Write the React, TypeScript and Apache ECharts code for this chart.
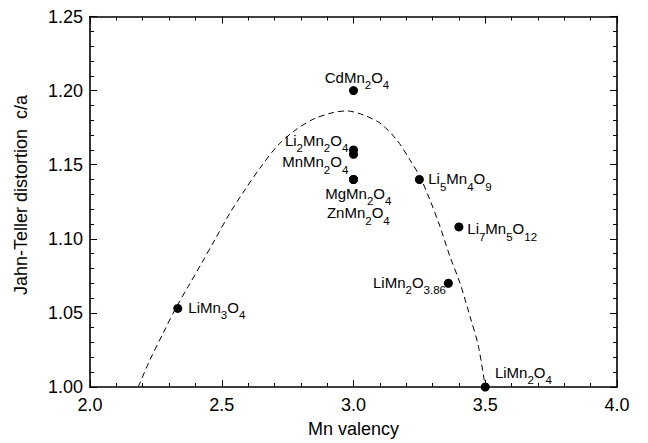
import { useEffect, useRef } from "react";
import * as echarts from "echarts";

// ---- data ----
const compounds = [
  "CdMn_2O_4",
  "Li_2Mn_2O_4",
  "MnMn_2O_4",
  "MgMn_2O_4",
  "ZnMn_2O_4",
  "Li_5Mn_4O_9",
  "Li_7Mn_5O_{12}",
  "LiMn_2O_{3.86}",
  "LiMn_2O_4",
  "LiMn_3O_4",
];
const mnValency = [3.0, 3.0, 3.0, 3.0, 3.0, 3.25, 3.4, 3.36, 3.5, 2.333];
const caRatio = [1.2, 1.16, 1.157, 1.14, 1.14, 1.14, 1.108, 1.07, 1.0, 1.053];

// dashed guide curve
const curveX = [
  2.183, 2.228, 2.278, 2.326, 2.373, 2.424, 2.474, 2.531, 2.588, 2.645, 2.709,
  2.772, 2.847, 2.923, 2.974, 3.037, 3.101, 3.164, 3.214, 3.252, 3.29, 3.328,
  3.366, 3.404, 3.442, 3.474, 3.5,
];
const curveY = [
  1.0, 1.0185, 1.0365, 1.0534, 1.0679, 1.0837, 1.0994, 1.1174, 1.1331, 1.1477,
  1.1623, 1.1724, 1.1807, 1.1852, 1.1863, 1.1836, 1.178, 1.1668, 1.1533, 1.142,
  1.1263, 1.1084, 1.0881, 1.0702, 1.0477, 1.0275, 1.0,
];

const xRange = [2.0, 4.0];
const yRange = [1.0, 1.25];
const xTitle = "Mn valency";
const yTitle = "Jahn-Teller distortion  c/a";

// ---- label layout (style, not data) ----
type Place = { pos: [number, number]; align: "left" | "right" | "center" };
const labelPlace: Record<string, Place> = {
  CdMn_2O_4: { pos: [8, -16.4], align: "center" },
  Li_2Mn_2O_4: { pos: [-0.7, -12.8], align: "right" },
  MnMn_2O_4: { pos: [-0.7, 4.3], align: "right" },
  MgMn_2O_4: { pos: [9.3, 10.6], align: "center" },
  ZnMn_2O_4: { pos: [9.3, 30.4], align: "center" },
  Li_5Mn_4O_9: { pos: [13.4, -3.7], align: "left" },
  "Li_7Mn_5O_{12}": { pos: [12.9, -1.1], align: "left" },
  "LiMn_2O_{3.86}": { pos: [2.1, -4.1], align: "right" },
  LiMn_2O_4: { pos: [14.2, -17.8], align: "left" },
  LiMn_3O_4: { pos: [15.1, -4.3], align: "left" },
};

const FONT = "'Liberation Sans', Arial, Helvetica, sans-serif";

function toRich(formula: string): string {
  const re = /_\{([^}]*)\}|_(\S)/g;
  let out = "";
  let last = 0;
  let m: RegExpExecArray | null;
  while ((m = re.exec(formula)) !== null) {
    if (m.index > last) out += `{m|${formula.slice(last, m.index)}}`;
    out += `{s|${m[1] ?? m[2]}}`;
    last = m.index + m[0].length;
  }
  if (last < formula.length) out += `{m|${formula.slice(last)}}`;
  return out;
}

export default function App() {
  const ref = useRef<HTMLDivElement>(null);

  useEffect(() => {
    if (!ref.current) return;
    const chart = echarts.init(ref.current, null, { renderer: "svg" });

    const axisCommon = {
      type: "value" as const,
      axisLine: { show: true, onZero: false, lineStyle: { color: "#000", width: 1.6 } },
      axisTick: { show: true, inside: true, length: 7, lineStyle: { color: "#000", width: 1 } },
      minorTick: { show: true, splitNumber: 5, length: 4, lineStyle: { color: "#000", width: 1 } },
      splitLine: { show: false },
      minorSplitLine: { show: false },
    };

    const scatterData = compounds.map((name, i) => {
      const p = labelPlace[name];
      return {
        value: [mnValency[i], caRatio[i]],
        name,
        label: {
          show: true,
          position: p.pos,
          align: p.align,
          formatter: toRich(name),
        },
      };
    });

    chart.setOption({
      animation: false,
      backgroundColor: "#fff",
      textStyle: { fontFamily: FONT, color: "#000" },
      grid: { left: 90, right: 31, top: 16.5, bottom: 56, containLabel: false, outerBoundsMode: "none" },
      xAxis: [
        {
          ...axisCommon,
          position: "bottom",
          min: xRange[0],
          max: xRange[1],
          interval: 0.5,
          axisLabel: {
            show: true,
            margin: 9,
            fontSize: 18,
            fontFamily: FONT,
            color: "#000",
            formatter: (v: number) => v.toFixed(1),
          },
          name: xTitle,
          nameLocation: "middle",
          nameGap: 33,
          nameTextStyle: { fontSize: 18, fontFamily: FONT, color: "#000", verticalAlign: "top" },
        },
        {
          ...axisCommon,
          position: "top",
          min: xRange[0],
          max: xRange[1],
          interval: 0.5,
          axisLabel: { show: false },
        },
      ],
      yAxis: [
        {
          ...axisCommon,
          position: "left",
          min: yRange[0],
          max: yRange[1],
          interval: 0.05,
          axisLabel: {
            show: true,
            margin: 7,
            fontSize: 18,
            fontFamily: FONT,
            color: "#000",
            formatter: (v: number) => v.toFixed(2),
          },
        },
        {
          ...axisCommon,
          position: "right",
          min: yRange[0],
          max: yRange[1],
          interval: 0.05,
          axisLabel: { show: false },
        },
      ],
      graphic: [
        {
          type: "text",
          x: 21,
          y: 195,
          rotation: Math.PI / 2,
          style: {
            text: yTitle,
            fontSize: 18,
            fontFamily: FONT,
            fill: "#000",
            align: "center",
            verticalAlign: "middle",
          },
        },
      ],
      series: [
        {
          type: "line",
          xAxisIndex: 0,
          yAxisIndex: 0,
          data: curveX.map((x, i) => [x, curveY[i]]),
          showSymbol: false,
          symbol: "none",
          smooth: 0.3,
          silent: true,
          z: 2,
          lineStyle: { color: "#000", width: 1, type: [6, 4] },
        },
        {
          type: "scatter",
          xAxisIndex: 0,
          yAxisIndex: 0,
          symbol: "circle",
          symbolSize: 9,
          clip: false,
          silent: true,
          z: 3,
          itemStyle: { color: "#000", opacity: 1 },
          label: {
            show: true,
            color: "#000",
            fontFamily: FONT,
            rich: {
              m: { fontSize: 15, fontFamily: FONT, color: "#000", verticalAlign: "top" },
              s: {
                fontSize: 11.5,
                fontFamily: FONT,
                color: "#000",
                verticalAlign: "top",
                lineHeight: 14,
                padding: [9.5, 0, 0, 0],
              },
            },
          },
          data: scatterData,
        },
      ],
    });

    return () => chart.dispose();
  }, []);

  return (
    <div
      ref={ref}
      style={{ position: "fixed", left: 0, top: 0, width: 648, height: 443, background: "#fff" }}
    />
  );
}
